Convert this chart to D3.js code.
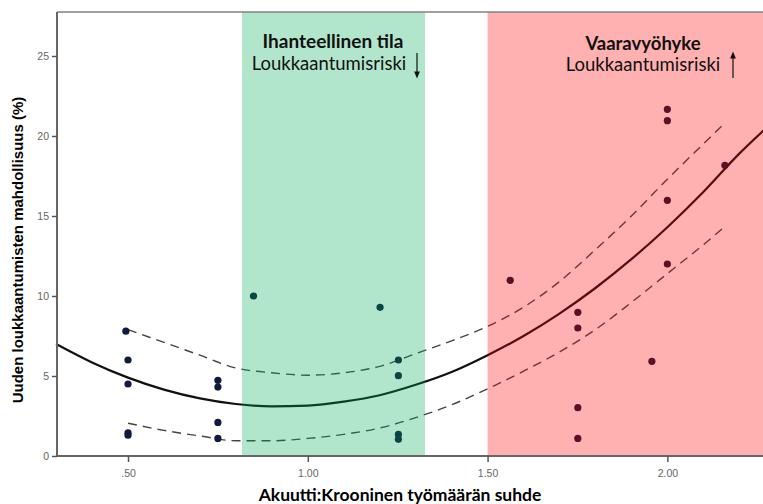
<!DOCTYPE html>
<html>
<head>
<meta charset="utf-8">
<script src="https://cdn.jsdelivr.net/npm/d3@7"></script>
<style>
body { margin: 0; background: #fff; }
</style>
</head>
<body>
<div id="chart"></div>
<script>
// observed data points (ratio, injury likelihood %)
const ratioX = [0.494, 0.50, 0.50, 0.50, 0.50,
  0.75, 0.75, 0.75, 0.75,
  0.849, 1.201, 1.252, 1.252, 1.252, 1.252,
  1.563, 1.751, 1.751, 1.751, 1.751, 1.957, 2.0, 2.0, 2.0, 2.0, 2.16];
const riskY = [7.8, 6.0, 4.5, 1.45, 1.3,
  4.73, 4.31, 2.1, 1.1,
  10.0, 9.29, 6.0, 5.02, 1.35, 1.04,
  10.98, 8.98, 8.0, 3.02, 1.1, 5.92, 12.0, 15.98, 20.96, 21.67, 18.17];

// fitted curve
const fitX = [0.30, 0.40, 0.50, 0.60, 0.70, 0.80, 0.90, 1.00, 1.10, 1.20, 1.30, 1.40, 1.50, 1.60, 1.70, 1.80, 1.90, 2.00, 2.10, 2.20, 2.27];
const fitY = [7.0, 5.85, 4.9, 4.15, 3.6, 3.25, 3.1, 3.15, 3.4, 3.8, 4.45, 5.25, 6.3, 7.5, 8.9, 10.5, 12.3, 14.3, 16.5, 18.9, 20.4];

// confidence band (dashed)
const ciX = [0.50, 0.60, 0.70, 0.80, 0.90, 1.00, 1.10, 1.20, 1.30, 1.40, 1.50, 1.60, 1.70, 1.80, 1.90, 2.00, 2.10, 2.155];
const ciUpper = [7.9, 7.1, 6.3, 5.5, 5.2, 5.05, 5.2, 5.6, 6.4, 7.2, 8.1, 9.3, 10.9, 12.9, 15.0, 17.3, 19.5, 20.7];
const ciLower = [2.05, 1.6, 1.25, 0.95, 0.95, 1.1, 1.35, 1.75, 2.4, 3.2, 4.2, 5.3, 6.5, 7.9, 9.6, 11.4, 13.2, 14.25];

// zones
const zoneStart = [0.817, 1.5];
const zoneEnd = [1.326, 2.3];

const xTicks = [0.5, 1.0, 1.5, 2.0];
const yTicks = [0, 5, 10, 15, 20, 25];

const W = 763, H = 504;
const margin = {top: 12, right: 0, bottom: 48, left: 57};

const svg = d3.select("#chart").append("svg")
  .attr("width", W).attr("height", H);

const x = d3.scaleLinear().domain([0.3025, 2.266]).range([margin.left, W]);
const y = d3.scaleLinear().domain([0, 25]).range([456, 56]);

const plot = svg.append("g");

// fit line and CI
const lineGen = (xs) => d3.line()
  .x((d, i) => x(xs[i]))
  .y(d => y(d))
  .curve(d3.curveMonotoneX);

plot.append("path")
  .attr("d", lineGen(ciX)(ciUpper))
  .attr("fill", "none").attr("stroke", "#444")
  .attr("stroke-width", 1.4).attr("stroke-dasharray", "9,6");
plot.append("path")
  .attr("d", lineGen(ciX)(ciLower))
  .attr("fill", "none").attr("stroke", "#444")
  .attr("stroke-width", 1.4).attr("stroke-dasharray", "9,6");
plot.append("path")
  .attr("d", lineGen(fitX)(fitY))
  .attr("fill", "none").attr("stroke", "#111")
  .attr("stroke-width", 2.2);

plot.selectAll("circle")
  .data(riskY)
  .join("circle")
  .attr("cx", (d, i) => x(ratioX[i]))
  .attr("cy", d => y(d))
  .attr("r", 3.6)
  .attr("fill", "#101a3a");

// zone overlays (semi-transparent, tint the marks under them)
const zoneColors = ["rgb(0,172,85)", "rgb(255,0,0)"];
const zoneAlpha = [0.3, 0.31];
svg.selectAll("rect.zone")
  .data(zoneStart)
  .join("rect")
  .attr("class", "zone")
  .attr("x", d => x(d))
  .attr("y", margin.top)
  .attr("width", (d, i) => x(zoneEnd[i]) - x(d))
  .attr("height", 456 - margin.top)
  .attr("fill", (d, i) => zoneColors[i])
  .attr("fill-opacity", (d, i) => zoneAlpha[i]);

// frame
svg.append("line").attr("x1", margin.left).attr("x2", W)
  .attr("y1", margin.top).attr("y2", margin.top)
  .attr("stroke", "#808080").attr("stroke-width", 1.5);

// axes
const xAxis = svg.append("g")
  .attr("transform", "translate(0,456)")
  .call(d3.axisBottom(x).tickValues(xTicks).tickSize(6).tickSizeOuter(0)
    .tickFormat(d => d < 1 ? d3.format(".2f")(d).replace(/^0/, "") : d3.format(".2f")(d)));
const yAxis = svg.append("g")
  .attr("transform", `translate(${margin.left},0)`)
  .call(d3.axisLeft(y).tickValues(yTicks).tickSize(5).tickSizeOuter(0));
xAxis.select(".domain").attr("d", `M${margin.left},0H${W}`);
yAxis.select(".domain").attr("d", `M0,456V${margin.top}`);
[xAxis, yAxis].forEach(a => {
  a.select(".domain").attr("stroke", "#666").attr("stroke-width", 2);
  a.selectAll(".tick line").attr("stroke", "#555").attr("stroke-width", 1.5);
  a.selectAll(".tick text").attr("fill", "#666")
    .attr("font-family", "Liberation Sans, Arial, sans-serif").attr("font-size", 10.5);
});
xAxis.selectAll(".tick text").attr("dy", "1.1em");

// axis labels
svg.append("text")
  .attr("x", 400).attr("y", 501)
  .attr("text-anchor", "middle")
  .attr("font-family", "Lato, sans-serif").attr("font-weight", "bold")
  .attr("font-size", 17.5)
  .text("Akuutti:Krooninen työmäärän suhde");

svg.append("text")
  .attr("transform", "rotate(-90)")
  .attr("x", -250).attr("y", 23)
  .attr("text-anchor", "middle")
  .attr("font-family", "Liberation Sans, Arial, sans-serif").attr("font-weight", "bold")
  .attr("font-size", 15)
  .text("Uuden loukkaantumisten mahdollisuus (%)");

// zone annotations
const annot = svg.append("g").attr("font-family", "Lato, sans-serif").attr("fill", "#111");
annot.append("text").attr("x", 333).attr("y", 48).attr("text-anchor", "middle")
  .attr("font-weight", "bold").attr("font-size", 19).text("Ihanteellinen tila");
annot.append("text").attr("x", 329).attr("y", 70).attr("text-anchor", "middle")
  .attr("font-size", 18.5).text("Loukkaantumisriski");
annot.append("text").attr("x", 643).attr("y", 50).attr("text-anchor", "middle")
  .attr("font-weight", "bold").attr("font-size", 18.5).text("Vaaravyöhyke");
annot.append("text").attr("x", 643).attr("y", 71).attr("text-anchor", "middle")
  .attr("font-size", 18.5).text("Loukkaantumisriski");

// arrows
svg.append("defs").append("marker")
  .attr("id", "ah").attr("viewBox", "0 0 10 10").attr("refX", 5).attr("refY", 5)
  .attr("markerWidth", 6).attr("markerHeight", 6).attr("orient", "auto-start-reverse")
  .append("path").attr("d", "M0,1L10,5L0,9z").attr("fill", "#111");
svg.append("line").attr("x1", 417).attr("x2", 417).attr("y1", 53).attr("y2", 75)
  .attr("stroke", "#111").attr("stroke-width", 1.2).attr("marker-end", "url(#ah)");
svg.append("line").attr("x1", 733).attr("x2", 733).attr("y1", 78).attr("y2", 55)
  .attr("stroke", "#111").attr("stroke-width", 1.2).attr("marker-end", "url(#ah)");
</script>
</body>
</html>
